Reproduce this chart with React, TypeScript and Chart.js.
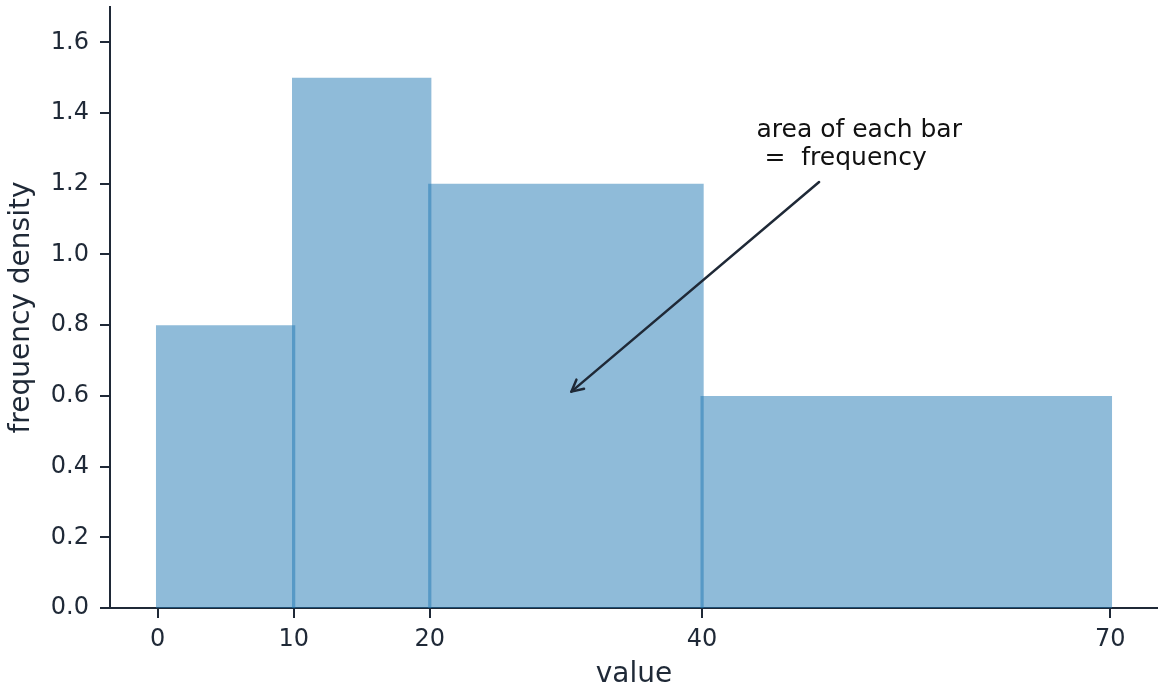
import React, { useEffect, useRef } from "react";
import { Chart, registerables } from "chart.js";

Chart.register(...registerables);

// ---- data ----
const BIN_EDGES = [0, 10, 20, 40, 70];
const DENSITIES = [0.8, 1.5, 1.2, 0.6];
const X_TICKS = [0, 10, 20, 40, 70];
const Y_TICKS = [0, 0.2, 0.4, 0.6, 0.8, 1.0, 1.2, 1.4, 1.6];
const X_LABEL = "value";
const Y_LABEL = "frequency density";
const ANNOTATION_LINES = ["area of each bar", " =  frequency"];
const ANNOTATION_TEXT_AT = [44.0, 1.35];
const ARROW_TAIL = [48.6, 1.205];
const ARROW_TIP = [30.4, 0.612];

// ---- style ----
const FONT = "'DejaVu Sans', sans-serif";
const INK = "#1f2937";
const BAR_FILL = "rgba(31,119,180,0.5)";
const EDGE_PAD = 0.13;

const annotationPlugin = {
  id: "annotation",
  afterDatasetsDraw(chart: any) {
    const { ctx, scales } = chart;
    const xs = scales.x;
    const ys = scales.y;
    ctx.save();
    // text
    ctx.fillStyle = "#111111";
    ctx.font = `25px ${FONT}`;
    ctx.textAlign = "left";
    ctx.textBaseline = "middle";
    const tx = xs.getPixelForValue(ANNOTATION_TEXT_AT[0]);
    const ty = ys.getPixelForValue(ANNOTATION_TEXT_AT[1]);
    ANNOTATION_LINES.forEach((line, i) => {
      ctx.fillText(line, tx, ty + i * 28);
    });
    // arrow
    const ax = xs.getPixelForValue(ARROW_TAIL[0]);
    const ay = ys.getPixelForValue(ARROW_TAIL[1]);
    const bx = xs.getPixelForValue(ARROW_TIP[0]);
    const by = ys.getPixelForValue(ARROW_TIP[1]);
    ctx.strokeStyle = INK;
    ctx.lineWidth = 2.5;
    ctx.lineCap = "round";
    ctx.lineJoin = "round";
    ctx.beginPath();
    ctx.moveTo(ax, ay);
    ctx.lineTo(bx, by);
    ctx.stroke();
    const ang = Math.atan2(ay - by, ax - bx);
    const head = 13;
    const spread = (27 * Math.PI) / 180;
    ctx.beginPath();
    ctx.moveTo(bx + head * Math.cos(ang + spread), by + head * Math.sin(ang + spread));
    ctx.lineTo(bx, by);
    ctx.lineTo(bx + head * Math.cos(ang - spread), by + head * Math.sin(ang - spread));
    ctx.stroke();
    ctx.restore();
  },
};

export default function App() {
  const ref = useRef<HTMLCanvasElement | null>(null);

  useEffect(() => {
    if (!ref.current) return;
    const datasets = DENSITIES.map((h, i) => {
      const x0 = BIN_EDGES[i] - EDGE_PAD;
      const x1 = BIN_EDGES[i + 1] + EDGE_PAD;
      return {
        data: [
          { x: x0, y: 0 },
          { x: x0, y: h },
          { x: x1, y: h },
          { x: x1, y: 0 },
        ],
        fill: "origin",
        backgroundColor: BAR_FILL,
        borderColor: "transparent",
        borderWidth: 0,
        pointRadius: 0,
        tension: 0,
      };
    });

    const chart = new Chart(ref.current, {
      type: "line",
      data: { datasets },
      plugins: [annotationPlugin],
      options: {
        animation: false,
        responsive: false,
        devicePixelRatio: 1,
        parsing: false as any,
        layout: { padding: { top: 7, right: 0, bottom: 0, left: 0 } },
        plugins: {
          legend: { display: false },
          tooltip: { enabled: false },
        },
        scales: {
          x: {
            type: "linear",
            min: -3.5,
            max: 73.5,
            afterBuildTicks: (s: any) => {
              s.ticks = X_TICKS.map((v) => ({ value: v }));
            },
            afterFit: (s: any) => {
              s.height = 81;
              s.paddingLeft = 0;
              s.paddingRight = 0;
            },
            grid: {
              display: true,
              drawOnChartArea: false,
              drawTicks: true,
              tickLength: 10,
              color: INK,
              lineWidth: 2,
            },
            border: { display: true, color: INK, width: 2 },
            ticks: {
              autoSkip: false,
              maxRotation: 0,
              padding: 7,
              color: INK,
              font: { family: FONT, size: 24 },
              callback: (v: any) => String(v),
            },
            title: {
              display: true,
              text: X_LABEL,
              color: INK,
              font: { family: FONT, size: 28, lineHeight: 1 },
              padding: { top: 0, bottom: 0 },
            },
          },
          y: {
            type: "linear",
            min: 0,
            max: 1.7,
            afterBuildTicks: (s: any) => {
              s.ticks = Y_TICKS.map((v) => ({ value: v }));
            },
            afterFit: (s: any) => {
              s.width = 110;
              s.paddingTop = 0;
              s.paddingBottom = 0;
            },
            grid: {
              display: true,
              drawOnChartArea: false,
              drawTicks: true,
              tickLength: 10,
              color: INK,
              lineWidth: 2,
            },
            border: { display: true, color: INK, width: 2 },
            ticks: {
              autoSkip: false,
              padding: 11,
              color: INK,
              font: { family: FONT, size: 24 },
              callback: (v: any) => Number(v).toFixed(1),
            },
            title: {
              display: true,
              text: Y_LABEL,
              color: INK,
              font: { family: FONT, size: 28, lineHeight: 1 },
              padding: { top: 8, bottom: 0 },
            },
          },
        },
      },
    });
    return () => chart.destroy();
  }, []);

  return (
    <div style={{ position: "absolute", left: 0, top: 0, width: 1158, height: 689, background: "#fff" }}>
      <canvas ref={ref} width={1158} height={689} style={{ display: "block" }} />
    </div>
  );
}
